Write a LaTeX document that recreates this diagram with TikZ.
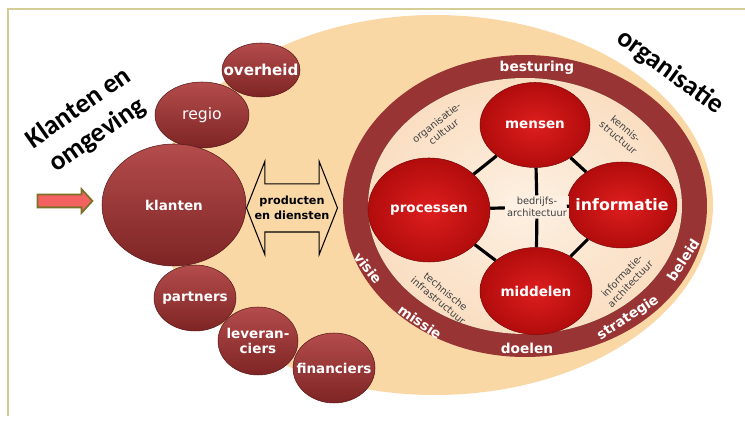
\documentclass[tikz,border=0pt]{standalone}
\usepackage{fontspec}
\setmainfont{DejaVu Sans}
\newfontfamily\calibri{Carlito}
\usetikzlibrary{shapes.geometric,shapes.arrows}

\definecolor{kader}{RGB}{212,206,150}
\definecolor{zand}{RGB}{250,216,166}
\definecolor{wijnrood}{RGB}{152,52,52}
\definecolor{wijnlicht}{RGB}{180,76,76}
\definecolor{wijndonker}{RGB}{126,36,36}
\definecolor{perzik}{RGB}{250,222,194}
\definecolor{perziklicht}{RGB}{253,240,226}
\definecolor{fel}{RGB}{222,30,30}
\definecolor{feldonker}{RGB}{178,12,12}
\definecolor{zalm}{RGB}{243,98,96}
\definecolor{olijf}{RGB}{122,112,40}

\tikzset{
  boltekst/.style={text=white, align=center, inner sep=0pt,
    font=\fontsize{7.7}{9}\selectfont\bfseries},
  bol/.style={ellipse, inner sep=0pt, top color=wijnlicht, bottom color=wijndonker,
    draw=wijndonker!70!black, line width=0.3pt, label={[boltekst]center:#1}},
  kern/.style={ellipse, inner sep=0pt, inner color=fel, outer color=feldonker,
    draw=feldonker!70!black, line width=0.3pt, label={[boltekst]center:#1}},
  ringtekst/.style={text=white, inner sep=0pt, font=\fontsize{7.8}{9}\selectfont\bfseries},
  laag/.style={text=black!75, inner sep=0pt, align=center, font=\fontsize{5.6}{6.6}\selectfont},
  lijn/.style={line width=1.8pt, black},
  titel/.style={align=center, inner sep=0pt, font=\calibri\bfseries\fontsize{15.5}{18.6}\selectfont},
}

\begin{document}
\begin{tikzpicture}[x=0.2mm, y=-0.2mm]
		%%%%% START %%%%%
		\useasboundingbox (0,0) rectangle (745,421);
		\draw[kader, line width=1.2pt] (745,9) -- (8,9) -- (8,416);
		
		\fill[zand] (435,205) ellipse (278 and 190);
		
		% organisatie: ring en binnenveld
		\fill[wijnrood, even odd rule] (525,206) ellipse (182 and 151) (525,206) ellipse (157 and 128);
		\fill[inner color=perziklicht, outer color=perzik] (525,206) ellipse (157 and 128);
		
		% omgeving
		\node[bol={\fontsize{8.6}{9}\selectfont overheid}, minimum width=15.6mm, minimum height=10.8mm] (overheid) at (261,70) {};
		\node[bol={\fontsize{8.9}{9}\selectfont\mdseries regio}, minimum width=18.8mm, minimum height=13.2mm] (regio) at (202,115) {};
		\node[bol={klanten}, minimum width=28.8mm, minimum height=24.4mm] (klanten) at (174,205) {};
		\node[bol={partners}, minimum width=16.4mm, minimum height=13.2mm] (partners) at (195,298) {};
		\node[bol={leveran-\\ciers}, minimum width=16mm, minimum height=13.6mm] (leveranciers) at (258,341) {};
		\node[bol={financiers}, minimum width=16.4mm, minimum height=14mm] (financiers) at (334,368) {};
		
		\node[single arrow, draw=olijf, fill=zalm, line width=1pt, inner xsep=0pt, inner ysep=1.1mm,
		  single arrow head extend=1.1mm, single arrow tip angle=95, minimum height=11mm] (pijl) at (62,201) {};
		
		\node[double arrow, draw=black, line width=0.6pt, inner xsep=0pt, inner ysep=4.7mm,
		  double arrow head extend=4.5mm, double arrow tip angle=137, minimum height=18.2mm] (pijlen) at (292,208) {};
		\node[align=center, inner sep=0pt, font=\fontsize{6.4}{8.5}\selectfont\bfseries] (producten) at (pijlen) {producten\\en diensten};
		
		\node[titel, rotate=35] (omgeving) at (88,122) {Klanten en\\omgeving};
		\node[titel, rotate=-36] (organisatie) at (670,72) {organisatie};
		
		% kern
		\node[kern={mensen}, minimum width=22mm, minimum height=17mm] (mensen) at (535,125) {};
		\node[kern={processen}, minimum width=24.4mm, minimum height=20.8mm] (processen) at (429,210) {};
		\node[kern={\fontsize{9}{9}\selectfont informatie}, minimum width=22mm, minimum height=17.2mm] (informatie) at (622,205) {};
		\node[kern={middelen}, minimum width=22.4mm, minimum height=17.4mm] (middelen) at (536,291) {};
		\node[laag, inner sep=1pt, fill=perziklicht] (bedrijf) at (537,207) {bedrijfs-\\architectuur};
		
		\draw[lijn] (mensen) -- (processen);
		\draw[lijn] (mensen) -- (informatie);
		\draw[lijn] (processen) -- (middelen);
		\draw[lijn] (informatie) -- (middelen);
		\draw[lijn] (mensen) -- (bedrijf);
		\draw[lijn] (bedrijf) -- (middelen);
		\draw[lijn] (processen) -- (bedrijf);
		\draw[lijn] (bedrijf) -- (informatie);
		
		\node[laag, rotate=38] (cultuur) at (440,127) {organisatie-\\cultuur};
		\node[laag, rotate=-40] (kennis) at (622,133) {kennis-\\structuur};
		\node[laag, rotate=-40] (infra) at (442,296) {technische\\infrastructuur};
		\node[laag, rotate=46] (infoarch) at (626,280) {informatie-\\architectuur};
		
		% ring
		\node[ringtekst] (besturing) at (537,68) {besturing};
		\node[ringtekst, rotate=-52] (visie) at (368,268) {visie};
		\node[ringtekst, rotate=-35] (missie) at (420,322) {missie};
		\node[ringtekst] (doelen) at (527,348) {doelen};
		\node[ringtekst, rotate=33] (strategie) at (628,318) {strategie};
		\node[ringtekst, rotate=57] (beleid) at (683,260) {beleid};
		
		%%%%% END %%%%%
\end{tikzpicture}
\end{document}
